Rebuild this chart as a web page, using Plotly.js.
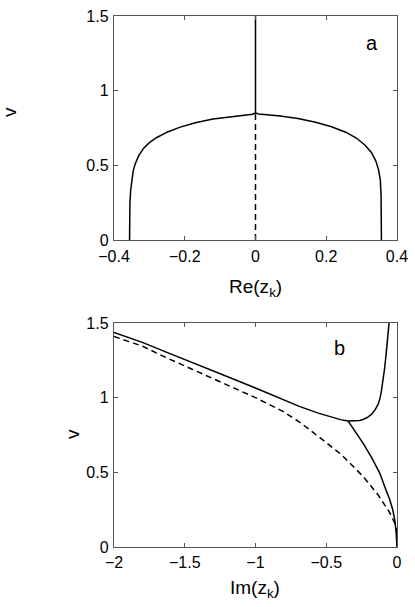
<!DOCTYPE html>
<html>
<head>
<meta charset="utf-8">
<script src="https://cdn.plot.ly/plotly-3.0.1.min.js"></script>
<style>
  body { margin: 0; background: #fff; }
  #plot { width: 415px; height: 607px; }
</style>
</head>
<body>
<div id="plot"></div>
<script>
// panel a: Re(z_k) against v
const aDomeRe = [-0.356, -0.356, -0.355, -0.353, -0.350, -0.346, -0.340, -0.330, -0.316, -0.300,
  -0.280, -0.250, -0.213, -0.170, -0.120, -0.070, -0.025, -0.008, 0,
  0.008, 0.025, 0.070, 0.120, 0.170, 0.215, 0.255, 0.285, 0.310, 0.328,
  0.340, 0.348, 0.353, 0.355, 0.356, 0.356];
const aDomeV = [0, 0.15, 0.25, 0.33, 0.40, 0.46, 0.51, 0.565, 0.615, 0.652,
  0.685, 0.722, 0.756, 0.785, 0.810, 0.826, 0.838, 0.842, 0.852,
  0.844, 0.840, 0.830, 0.813, 0.788, 0.758, 0.722, 0.683, 0.635, 0.585,
  0.53, 0.47, 0.40, 0.30, 0.15, 0];
const aStemRe = [0, 0];
const aStemV = [0.852, 1.5];
const aDashRe = [0, 0];
const aDashV = [0, 0.852];

// panel b: Im(z_k) against v
const bUpperIm = [-2.0, -1.8, -1.626, -1.4, -1.157, -1.0, -0.8, -0.686, -0.55, -0.451, -0.40,
  -0.345, -0.30, -0.265, -0.240, -0.21, -0.181, -0.155, -0.134, -0.120, -0.110,
  -0.098, -0.087, -0.078, -0.071, -0.063, -0.056];
const bUpperV = [1.437, 1.37, 1.303, 1.215, 1.125, 1.065, 0.985, 0.94, 0.895, 0.866, 0.853,
  0.844, 0.844, 0.847, 0.854, 0.867, 0.888, 0.918, 0.955, 0.995, 1.045,
  1.12, 1.20, 1.28, 1.357, 1.43, 1.5];
const bLowerIm = [-0.345, -0.30, -0.240, -0.18, -0.122, -0.085, -0.051, -0.030, -0.016, -0.006, 0];
const bLowerV = [0.843, 0.78, 0.696, 0.60, 0.495, 0.40, 0.317, 0.25, 0.183, 0.10, 0];
const bDashIm = [-2.0, -1.8, -1.626, -1.4, -1.157, -1.0, -0.8, -0.686, -0.51, -0.392, -0.24,
  -0.134, -0.056, -0.016, -0.004, 0];
const bDashV = [1.41, 1.345, 1.266, 1.17, 1.065, 1.0, 0.905, 0.835, 0.707, 0.618, 0.473,
  0.35, 0.238, 0.161, 0.116, 0.02];

const solid = { color: '#000', width: 1.5 };
const dashed = { color: '#000', width: 1.5, dash: '6px,4px' };

const traces = [
  { x: aDomeRe, y: aDomeV, mode: 'lines', line: solid, xaxis: 'x', yaxis: 'y' },
  { x: aStemRe, y: aStemV, mode: 'lines', line: solid, xaxis: 'x', yaxis: 'y' },
  { x: aDashRe, y: aDashV, mode: 'lines', line: dashed, xaxis: 'x', yaxis: 'y' },
  { x: bDashIm, y: bDashV, mode: 'lines', line: dashed, xaxis: 'x2', yaxis: 'y2' },
  { x: bUpperIm, y: bUpperV, mode: 'lines', line: solid, xaxis: 'x2', yaxis: 'y2' },
  { x: bLowerIm, y: bLowerV, mode: 'lines', line: solid, xaxis: 'x2', yaxis: 'y2' }
];

const axisStyle = {
  showline: true, linecolor: '#555', linewidth: 1.2, mirror: 'ticks',
  ticks: 'inside', ticklen: 4, tickcolor: '#555', tickwidth: 1,
  showgrid: false, zeroline: false, fixedrange: true,
  tickfont: { size: 16, color: '#000' }
};

const font = 'Liberation Sans, Arial, Helvetica, sans-serif';

const layout = {
  width: 415, height: 607,
  margin: { l: 0, r: 0, t: 0, b: 0 },
  paper_bgcolor: '#fff', plot_bgcolor: '#fff',
  showlegend: false,
  font: { family: font, color: '#000' },
  xaxis: Object.assign({}, axisStyle, { domain: [0.2747, 0.9566], range: [-0.4, 0.4], dtick: 0.2, anchor: 'y', ticklabelstandoff: 2 }),
  yaxis: Object.assign({}, axisStyle, { domain: [0.6046, 0.9736], range: [0, 1.5], dtick: 0.5, anchor: 'x', ticklabelstandoff: 1 }),
  xaxis2: Object.assign({}, axisStyle, { domain: [0.2747, 0.9566], range: [-2, 0], dtick: 0.5, anchor: 'y2', ticklabelstandoff: 1 }),
  yaxis2: Object.assign({}, axisStyle, { domain: [0.0988, 0.4679], range: [0, 1.5], dtick: 0.5, anchor: 'x2', ticklabelstandoff: 1 }),
  annotations: [
    { text: 'a', x: 0.329, y: 1.319, xref: 'x', yref: 'y', showarrow: false, font: { size: 20 } },
    { text: 'b', x: -0.404, y: 1.335, xref: 'x2', yref: 'y2', showarrow: false, font: { size: 20 } },
    { text: 'v', x: 10 / 415, y: 1 - 112 / 607, xref: 'paper', yref: 'paper', textangle: -90,
      xanchor: 'center', yanchor: 'middle', borderpad: 0, showarrow: false, font: { size: 19 } },
    { text: 'v', x: 72 / 415, y: 1 - 434 / 607, xref: 'paper', yref: 'paper', textangle: -90,
      xanchor: 'center', yanchor: 'middle', borderpad: 0, showarrow: false, font: { size: 19 } },
    { text: 'Re(z<sub>k</sub>)', x: 255 / 415, y: 1 - 288 / 607, xref: 'paper', yref: 'paper',
      xanchor: 'center', yanchor: 'middle', showarrow: false, font: { size: 19 } },
    { text: 'Im(z<sub>k</sub>)', x: 255 / 415, y: 1 - 589 / 607, xref: 'paper', yref: 'paper',
      xanchor: 'center', yanchor: 'middle', showarrow: false, font: { size: 19 } }
  ]
};

Plotly.newPlot('plot', traces, layout, { displayModeBar: false, staticPlot: true });
</script>
</body>
</html>
